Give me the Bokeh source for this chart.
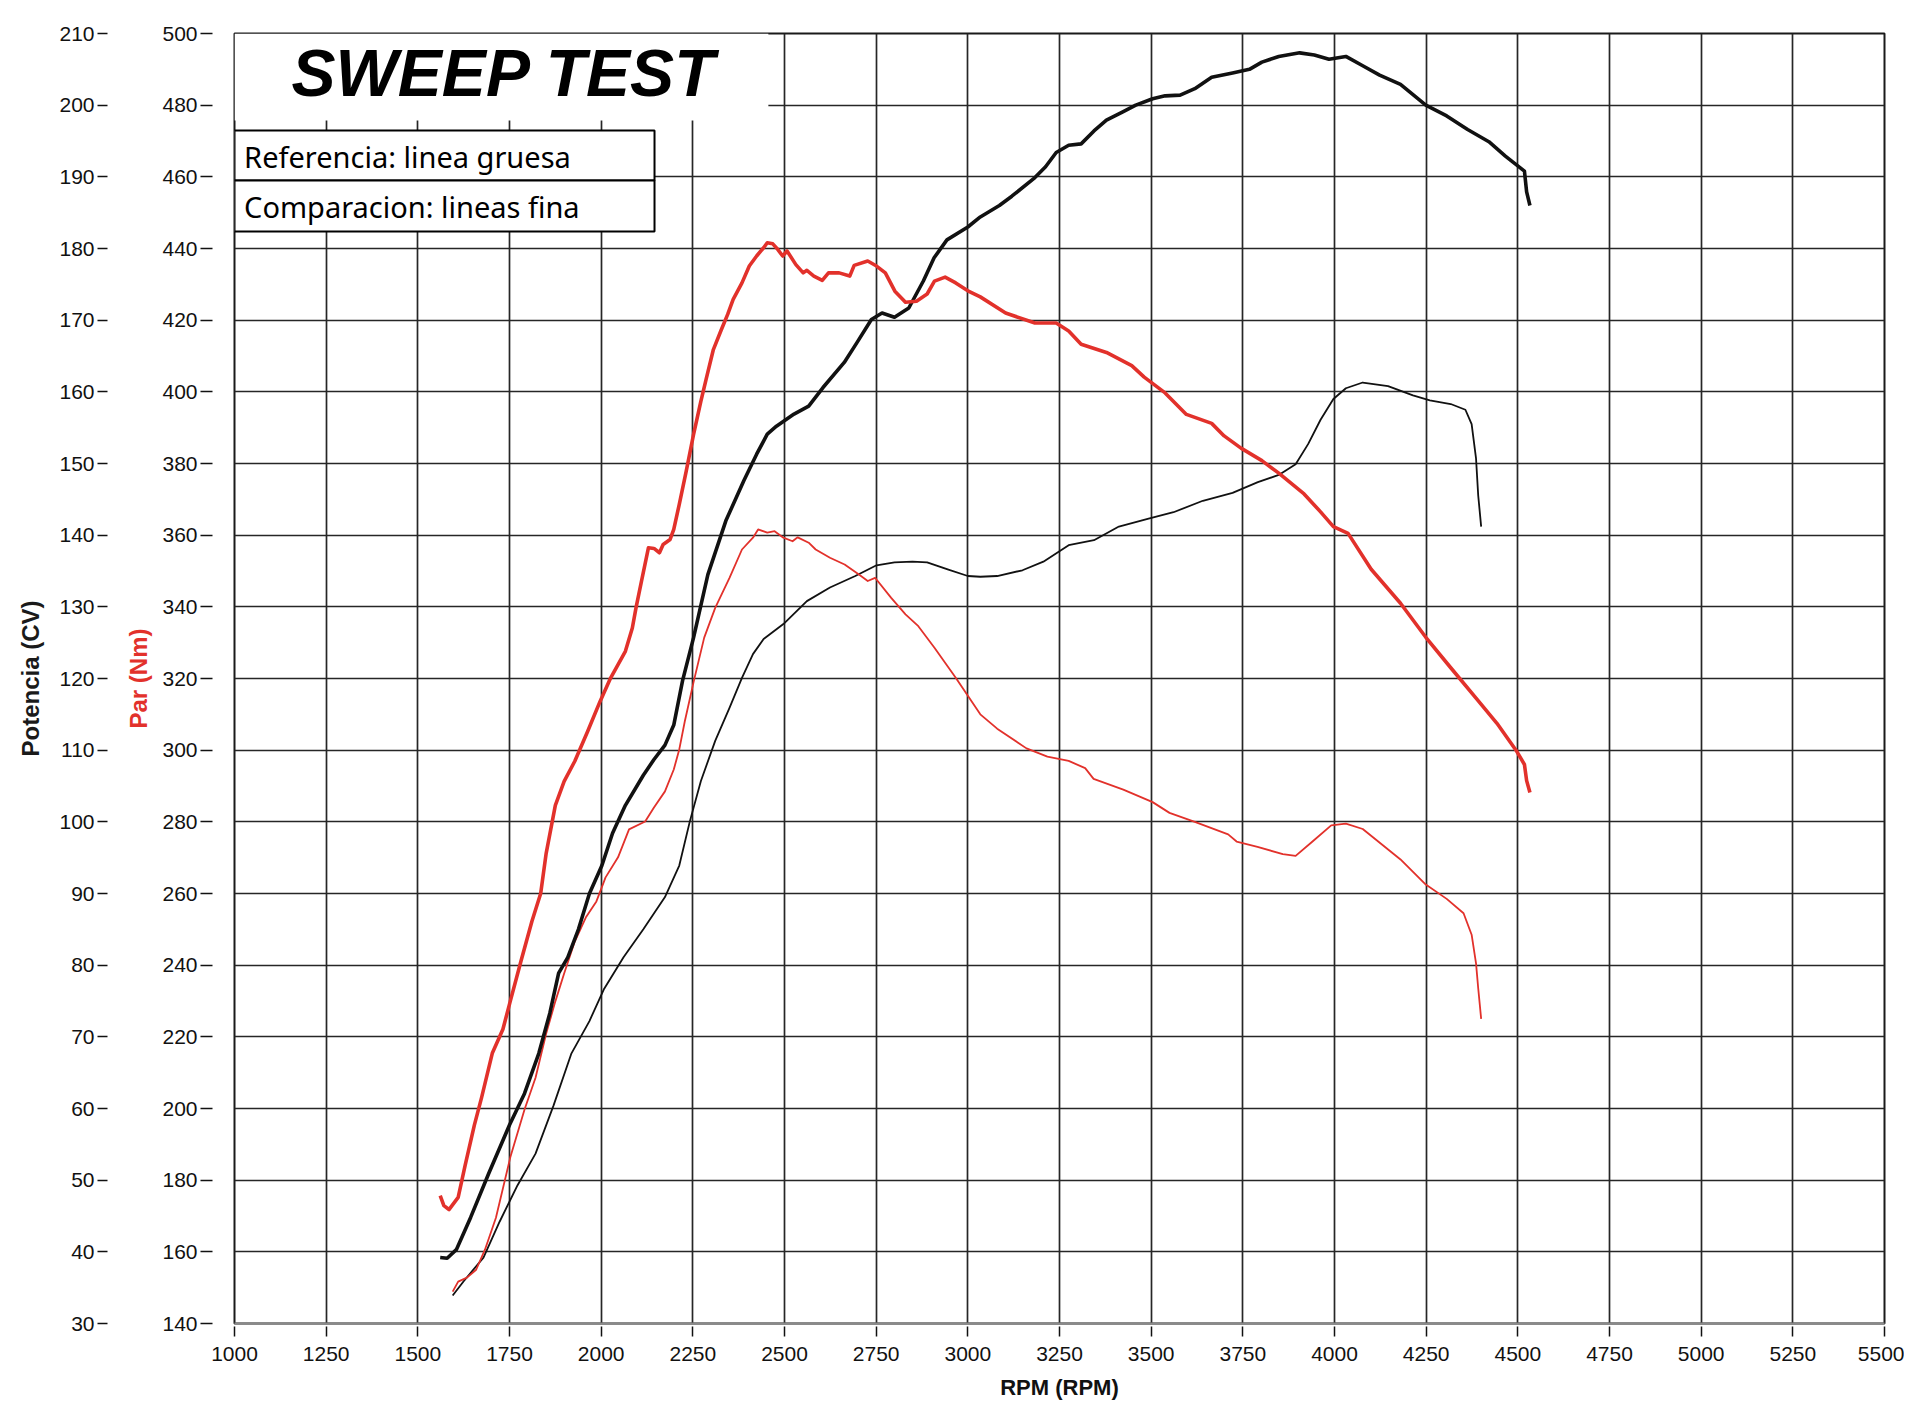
from bokeh.plotting import figure
from bokeh.models import Range1d, LinearAxis, FixedTicker, BoxAnnotation, Label
from bokeh.embed import file_html
from bokeh.resources import INLINE

# ---------------- data ----------------
rpm_ticks = list(range(1000, 5501, 250))
torque_ticks = list(range(140, 501, 20))
power_ticks = list(range(30, 211, 10))

# Reference run (thick lines) - power, CV
ref_pow_rpm = [1561, 1580, 1605, 1644, 1693, 1750, 1791, 1830, 1860, 1884, 1909, 1938, 1968, 2002, 2031,
               2066, 2115, 2144, 2174, 2198, 2222, 2252, 2291, 2340, 2389, 2424, 2453, 2478, 2526, 2566,
               2605, 2663, 2698, 2737, 2766, 2800, 2839, 2879, 2908, 2943, 3000, 3034, 3086, 3120, 3183,
               3212, 3241, 3275, 3309, 3344, 3378, 3424, 3458, 3504, 3538, 3579, 3619, 3665, 3722, 3768,
               3802, 3848, 3905, 3945, 3985, 4031, 4077, 4123, 4180, 4249, 4306, 4363, 4421, 4466, 4518,
               4524, 4533]
ref_pow = [39.2, 39.1, 40.3, 44.8, 50.9, 57.7, 62.1, 67.7, 73.3, 78.9, 81.1, 85.0, 90.0, 93.9, 98.4,
           102.3, 106.5, 108.7, 110.7, 113.5, 119.7, 125.7, 134.5, 142.0, 147.6, 151.3, 154.1, 155.2, 156.9, 158.0,
           160.6, 164.1, 166.9, 170.1, 171.0, 170.4, 171.7, 175.5, 178.7, 181.2, 183.0, 184.4, 186.0, 187.3, 189.9,
           191.4, 193.4, 194.4, 194.6, 196.4, 197.9, 199.1, 200.0, 200.9, 201.3, 201.4, 202.3, 203.9, 204.5, 205.0,
           206.0, 206.8, 207.3, 207.0, 206.4, 206.8, 205.5, 204.2, 202.9, 200.0, 198.5, 196.6, 194.9, 192.9, 190.8,
           187.9, 186.0]

# Comparison run (thin lines) - power, CV
cmp_pow_rpm = [1595, 1625, 1679, 1723, 1772, 1821, 1870, 1919, 1968, 2007, 2061, 2115, 2174, 2213, 2242,
               2272, 2311, 2350, 2384, 2414, 2443, 2497, 2561, 2624, 2693, 2751, 2800, 2849, 2889, 2947,
               3000, 3034, 3080, 3149, 3206, 3275, 3344, 3412, 3493, 3561, 3641, 3722, 3791, 3848, 3894,
               3928, 3962, 3997, 4031, 4077, 4146, 4214, 4260, 4317, 4357, 4374, 4386, 4392, 4400]
cmp_pow = [33.9, 35.9, 39.2, 44.2, 49.3, 53.7, 60.4, 67.7, 72.2, 76.6, 81.1, 85.0, 89.5, 93.9, 100.1,
           105.7, 111.3, 115.9, 120.1, 123.4, 125.5, 127.6, 130.8, 132.7, 134.3, 135.8, 136.2, 136.3, 136.2, 135.2,
           134.3, 134.2, 134.3, 135.1, 136.3, 138.6, 139.3, 141.2, 142.3, 143.2, 144.8, 145.9, 147.4, 148.4, 149.9,
           152.7, 156.1, 159.0, 160.5, 161.3, 160.8, 159.5, 158.8, 158.3, 157.5, 155.5, 150.7, 145.5, 141.2]

# Reference run (thick lines) - torque, Nm
ref_trq_rpm = [1561, 1571, 1585, 1610, 1629, 1654, 1674, 1703, 1732, 1752, 1781, 1811, 1835, 1850, 1875,
               1899, 1928, 1963, 1997, 2026, 2066, 2085, 2095, 2110, 2129, 2144, 2159, 2169, 2188, 2198,
               2213, 2232, 2252, 2272, 2286, 2306, 2326, 2345, 2360, 2384, 2404, 2424, 2443, 2453, 2468,
               2482, 2495, 2507, 2531, 2551, 2561, 2580, 2603, 2620, 2649, 2678, 2690, 2727, 2751, 2775,
               2801, 2830, 2860, 2889, 2909, 2938, 2967, 3000, 3034, 3103, 3183, 3241, 3275, 3309, 3378,
               3447, 3481, 3538, 3596, 3665, 3699, 3745, 3802, 3848, 3917, 3962, 3997, 4037, 4100, 4180,
               4249, 4317, 4386, 4443, 4495, 4518, 4524, 4533]
ref_trq = [175.7, 172.9, 171.8, 175.2, 184.1, 195.3, 203.1, 215.4, 222.1, 229.9, 241.0, 252.2, 260.0, 271.2, 284.6,
           291.3, 296.9, 305.2, 313.6, 320.2, 327.6, 334.1, 339.7, 347.2, 356.5, 356.3, 355.1, 357.4, 358.8, 361.6,
           368.6, 377.9, 388.1, 397.4, 403.4, 411.8, 416.9, 421.6, 425.8, 430.4, 435.1, 437.9, 440.2, 441.6, 441.3,
           439.7, 437.9, 439.3, 435.5, 433.2, 433.9, 432.3, 431.1, 433.2, 433.2, 432.3, 435.3, 436.5, 435.1, 433.2,
           428.1, 425.0, 425.3, 427.3, 430.9, 432.0, 430.4, 428.2, 426.5, 422.0, 419.2, 419.2, 417.0, 413.3, 411.0,
           407.3, 404.1, 399.7, 393.7, 391.2, 387.7, 384.3, 380.8, 377.3, 371.5, 366.5, 362.4, 360.5, 350.5, 341.0,
           331.5, 323.0, 314.5, 307.5, 300.0, 296.0, 291.5, 288.2]

# Comparison run (thin lines) - torque, Nm
cmp_trq_rpm = [1595, 1610, 1634, 1659, 1683, 1713, 1752, 1791, 1821, 1850, 1875, 1899, 1928, 1958, 1987,
               2012, 2046, 2076, 2120, 2144, 2174, 2198, 2213, 2228, 2252, 2281, 2311, 2350, 2384, 2414,
               2428, 2453, 2473, 2497, 2522, 2536, 2566, 2585, 2624, 2664, 2703, 2727, 2747, 2791, 2830,
               2865, 2909, 2967, 3034, 3080, 3160, 3217, 3275, 3320, 3343, 3424, 3504, 3550, 3619, 3710,
               3733, 3790, 3859, 3894, 3940, 3991, 4031, 4077, 4180, 4249, 4306, 4352, 4374, 4386, 4392,
               4400]
cmp_trq = [148.9, 151.7, 152.8, 155.0, 160.6, 169.5, 186.3, 199.7, 208.6, 220.9, 229.9, 237.7, 246.6, 253.3, 257.8,
           264.5, 270.1, 277.9, 280.1, 284.0, 288.5, 294.6, 300.2, 308.0, 319.0, 331.4, 339.7, 348.1, 356.0, 359.3,
           361.6, 360.7, 361.1, 359.3, 358.3, 359.4, 357.9, 356.0, 353.7, 351.8, 349.0, 347.2, 348.1, 342.5, 337.9,
           334.6, 328.6, 320.2, 310.0, 306.0, 300.5, 298.2, 297.0, 295.0, 292.0, 289.0, 285.5, 282.5, 280.0, 276.5,
           274.5, 273.0, 271.0, 270.5, 274.5, 279.0, 279.5, 278.0, 269.5, 262.5, 258.5, 254.5, 248.5, 240.5, 233.5,
           225.0]

title_text = "SWEEP TEST"
legend_lines = ["Referencia: linea gruesa", "Comparacion: lineas fina"]

# ---------------- styling ----------------
RED = "#e2312b"
BLACK = "#111111"
GRID = "#262626"
TICK_FONT = "Liberation Sans"
LABEL_FONT = "Liberation Sans"

p = figure(frame_width=1650, frame_height=1290,
           x_range=Range1d(1000, 5500), y_range=Range1d(140, 500),
           output_backend="svg", toolbar_location=None,
           min_border_left=234, min_border_top=33, min_border_right=20, min_border_bottom=60)
p.extra_y_ranges = {"power": Range1d(30, 210)}
p.background_fill_color = "white"
p.border_fill_color = "white"
p.outline_line_color = "#1a1a1a"
p.outline_line_width = 2

# grid
p.xgrid.ticker = FixedTicker(ticks=rpm_ticks)
p.ygrid.ticker = FixedTicker(ticks=torque_ticks)
p.grid.grid_line_color = GRID
p.grid.grid_line_width = 1.7

# x axis
xa = p.xaxis[0]
xa.ticker = FixedTicker(ticks=rpm_ticks)
xa.axis_line_color = "#8a8a8a"
xa.axis_line_width = 2
xa.major_tick_in = -3
xa.major_tick_out = 13
xa.major_tick_line_color = BLACK
xa.major_tick_line_width = 1.5
xa.minor_tick_line_color = None
xa.major_label_text_font = TICK_FONT
xa.major_label_text_font_size = "21px"
xa.major_label_text_color = BLACK
xa.major_label_standoff = 10
xa.axis_label = "RPM (RPM)"
xa.axis_label_text_font = LABEL_FONT
xa.axis_label_text_font_style = "bold"
xa.axis_label_text_font_size = "22px"
xa.axis_label_text_color = BLACK
xa.axis_label_standoff = 11

# torque axis (inner left)
ta = p.yaxis[0]
ta.ticker = FixedTicker(ticks=torque_ticks)
ta.axis_line_color = None
ta.major_tick_in = -22
ta.major_tick_out = 34
ta.major_tick_line_color = BLACK
ta.major_tick_line_width = 1.5
ta.minor_tick_line_color = None
ta.major_label_text_font = TICK_FONT
ta.major_label_text_font_size = "21px"
ta.major_label_text_color = BLACK
ta.major_label_standoff = 3
ta.axis_label = "Par (Nm)"
ta.axis_label_text_font = LABEL_FONT
ta.axis_label_text_font_style = "bold"
ta.axis_label_text_font_size = "24px"
ta.axis_label_text_color = RED
ta.axis_label_standoff = 7

# power axis (outer left)
pa = LinearAxis(y_range_name="power", ticker=FixedTicker(ticks=power_ticks))
pa.axis_line_color = None
pa.major_tick_in = -15
pa.major_tick_out = 25
pa.major_tick_line_color = BLACK
pa.major_tick_line_width = 1.5
pa.minor_tick_line_color = None
pa.major_label_text_font = TICK_FONT
pa.major_label_text_font_size = "21px"
pa.major_label_text_color = BLACK
pa.major_label_standoff = 3
pa.axis_label = "Potencia (CV)"
pa.axis_label_text_font = LABEL_FONT
pa.axis_label_text_font_style = "bold"
pa.axis_label_text_font_size = "24px"
pa.axis_label_text_color = "#1a1a1a"
pa.axis_label_standoff = 12
p.add_layout(pa, "left")

# curves
p.line(cmp_pow_rpm, cmp_pow, y_range_name="power", line_color=BLACK, line_width=1.8, line_join="round")
p.line(cmp_trq_rpm, cmp_trq, line_color=RED, line_width=1.8, line_join="round")
p.line(ref_pow_rpm, ref_pow, y_range_name="power", line_color=BLACK, line_width=3.6, line_join="round")
p.line(ref_trq_rpm, ref_trq, line_color=RED, line_width=3.6, line_join="round")

# title area (white patch over the grid) and the title
p.add_layout(BoxAnnotation(left=1000, right=2456, bottom=475.7, top=500,
                           fill_color="white", fill_alpha=1.0, line_color=None))
p.add_layout(Label(x=1155.5, y=489.1, text=title_text, text_font=LABEL_FONT,
                   text_font_style="bold italic", text_font_size="66px",
                   text_color="black", text_baseline="alphabetic"))

# legend boxes
p.add_layout(BoxAnnotation(left=1000, right=2145.5, bottom=459.0, top=472.95,
                           fill_color="white", fill_alpha=1.0,
                           line_color="black", line_alpha=1.0, line_width=2))
p.add_layout(BoxAnnotation(left=1000, right=2145.5, bottom=444.75, top=459.0,
                           fill_color="white", fill_alpha=1.0,
                           line_color="black", line_alpha=1.0, line_width=2))
p.add_layout(Label(x=1026.2, y=465.7, text=legend_lines[0], text_font="Noto Sans",
                   text_font_size="29px", text_color="black", text_baseline="alphabetic"))
p.add_layout(Label(x=1026.2, y=451.75, text=legend_lines[1], text_font="Noto Sans",
                   text_font_size="29px", text_color="black", text_baseline="alphabetic"))

open("out.html", "w").write(file_html(p, INLINE))
